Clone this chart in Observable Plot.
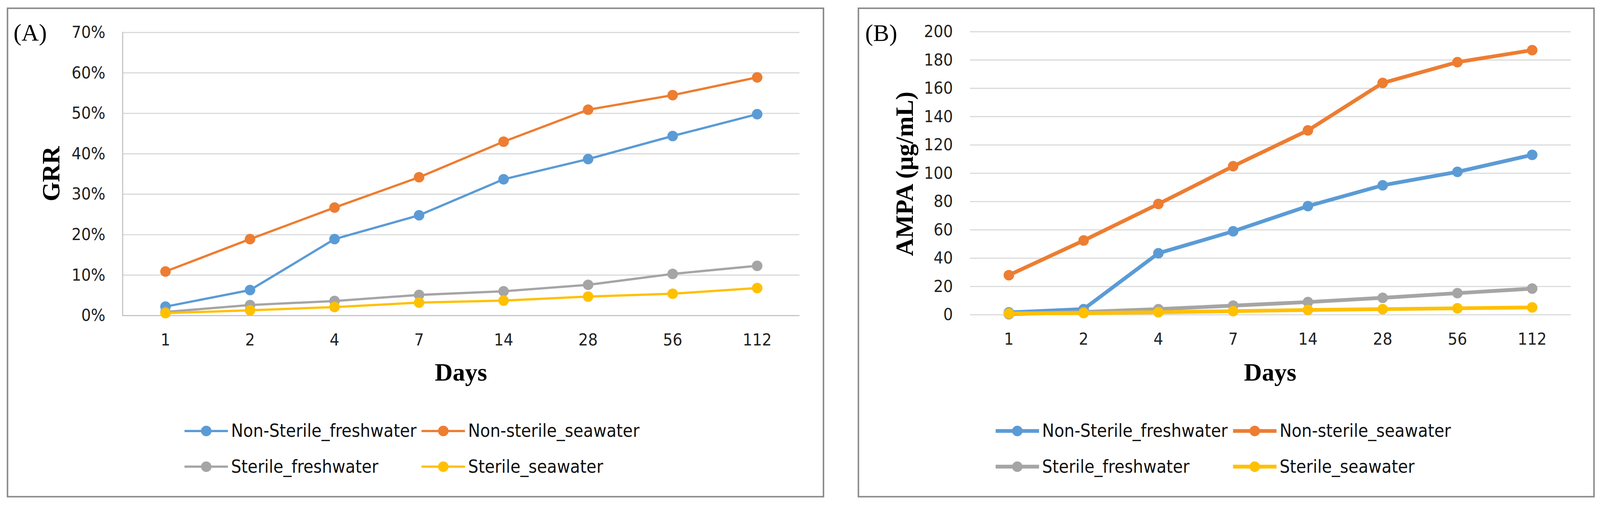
<!DOCTYPE html>
<html>
<head>
<meta charset="utf-8">
<script src="https://cdn.jsdelivr.net/npm/d3@7"></script>
<script src="https://cdn.jsdelivr.net/npm/@observablehq/plot@0.6"></script>
<style>
  html, body { margin: 0; padding: 0; background: #ffffff; overflow: hidden; }
  #root { position: relative; width: 4259px; height: 1350px; background: #ffffff; overflow: hidden; transform-origin: 0 0; }
  .frame { position: absolute; border: 4px solid #8a8a8a; box-sizing: border-box; }
  .abs { position: absolute; white-space: nowrap; }
  .serif { font-family: "Liberation Serif", "DejaVu Serif", serif; color: #000; }
  .sans { font-family: "DejaVu Sans Condensed", "DejaVu Sans", sans-serif; font-stretch: condensed; color: #111; }
  .plotwrap { position: absolute; top: 0; }
</style>
</head>
<body>
<div id="root"></div>
<script>
// ---------- data ----------
const days = ["1", "2", "4", "7", "14", "28", "56", "112"];
const seriesNames = ["Non-Sterile_freshwater", "Non-sterile_seawater", "Sterile_freshwater", "Sterile_seawater"];
const seriesColors = ["#5B9BD5", "#ED7D31", "#A5A5A5", "#FFC000"];

// Panel A: GRR (fraction)
const grrNonSterileFresh = [0.022, 0.063, 0.189, 0.248, 0.337, 0.387, 0.444, 0.498];
const grrNonSterileSea   = [0.109, 0.189, 0.267, 0.342, 0.430, 0.509, 0.545, 0.589];
const grrSterileFresh    = [0.009, 0.026, 0.036, 0.051, 0.060, 0.076, 0.103, 0.123];
const grrSterileSea      = [0.006, 0.013, 0.021, 0.032, 0.037, 0.047, 0.054, 0.068];

// Panel B: AMPA (µg/mL)
const ampaNonSterileFresh = [1.7, 4.0, 43.5, 59.0, 76.8, 91.5, 101.0, 113.0];
const ampaNonSterileSea   = [28.0, 52.5, 78.3, 105.0, 130.3, 163.8, 178.5, 187.0];
const ampaSterileFresh    = [0.4, 2.0, 4.0, 6.5, 9.0, 12.0, 15.3, 18.5];
const ampaSterileSea      = [1.0, 1.2, 1.8, 2.6, 3.4, 4.0, 4.6, 5.2];

const yTicksA = [0, 0.1, 0.2, 0.3, 0.4, 0.5, 0.6, 0.7];
const yTicksB = [0, 20, 40, 60, 80, 100, 120, 140, 160, 180, 200];

const labelA = "(A)", labelB = "(B)";
const yTitleA = "GRR", yTitleB = "AMPA (µg/mL)", xTitle = "Days";

// ---------- helpers ----------
function tidy(arrays) {
  const rows = [];
  arrays.forEach((vals, i) => vals.forEach((v, j) => rows.push({series: seriesNames[i], day: days[j], value: v})));
  return rows;
}

const root = document.getElementById("root");
const sansFont = '"DejaVu Sans Condensed", "DejaVu Sans", sans-serif';

function fit() {
  const s = Math.min(window.innerWidth / 4259, window.innerHeight / 1350);
  root.style.transform = s < 0.999 ? `scale(${s})` : "none";
}
fit();
window.addEventListener("resize", fit);

function addDiv(cls, text, css) {
  const d = document.createElement("div");
  d.className = cls;
  d.textContent = text;
  Object.assign(d.style, css);
  root.appendChild(d);
  return d;
}

function makePanel(cfg) {
  const rows = tidy(cfg.arrays);
  const marks = [
    Plot.gridY({ticks: cfg.yTicks, stroke: "#d9d9d9", strokeOpacity: 1, strokeWidth: 3})
  ];
  if (cfg.axisLine) {
    marks.push(Plot.frame({anchor: "left", stroke: "#c4c4c4", strokeWidth: 3}));
    marks.push(Plot.ruleY([0], {stroke: "#c4c4c4", strokeWidth: 3}));
  }
  marks.push(
    Plot.axisY({ticks: cfg.yTicks, tickFormat: cfg.tickFormat, tickSize: 0, tickPadding: 46, label: null,
                fontSize: 45, fill: "#222"}),
    Plot.axisX({tickSize: 0, tickPadding: 48, label: null, fontSize: 45, fill: "#222"})
  );
  seriesNames.forEach((s) => {
    const sub = rows.filter(d => d.series === s);
    marks.push(Plot.line(sub, {x: "day", y: "value", stroke: "series", strokeWidth: cfg.lineWidth}));
    marks.push(Plot.dot(sub, {x: "day", y: "value", fill: "series", r: 14, stroke: "none"}));
  });
  const svg = Plot.plot({
    width: cfg.width, height: 1350,
    marginLeft: cfg.marginLeft, marginRight: cfg.marginRight, marginTop: cfg.marginTop, marginBottom: 1350 - cfg.plotBottom,
    x: {type: "point", domain: days, padding: 0.5},
    y: {domain: cfg.yDomain},
    color: {domain: seriesNames, range: seriesColors},
    style: {fontFamily: sansFont, fontSize: "45px", background: "transparent", overflow: "visible"},
    marks
  });
  const wrap = document.createElement("div");
  wrap.className = "plotwrap";
  wrap.style.left = cfg.left + "px";
  wrap.appendChild(svg);
  root.appendChild(wrap);

  // legend
  const lx = cfg.legendX, ly = [1148, 1243];
  seriesNames.forEach((s, i) => {
    const x = lx[i % 2], y = ly[Math.floor(i / 2)];
    const ns = "http://www.w3.org/2000/svg";
    const sw = document.createElementNS(ns, "svg");
    sw.setAttribute("width", 116); sw.setAttribute("height", 40);
    sw.style.position = "absolute"; sw.style.left = x + "px"; sw.style.top = (y - 20) + "px";
    const ln = document.createElementNS(ns, "line");
    ln.setAttribute("x1", 0); ln.setAttribute("x2", 116); ln.setAttribute("y1", 20); ln.setAttribute("y2", 20);
    ln.setAttribute("stroke", seriesColors[i]); ln.setAttribute("stroke-width", cfg.lineWidth);
    const c = document.createElementNS(ns, "circle");
    c.setAttribute("cx", 58); c.setAttribute("cy", 20); c.setAttribute("r", 14); c.setAttribute("fill", seriesColors[i]);
    sw.appendChild(ln); sw.appendChild(c);
    root.appendChild(sw);
    addDiv("abs sans", s, {left: (x + 124) + "px", top: y + "px", fontSize: "48px", transform: "translateY(-52%)"});
  });
}

// frames
addDiv("frame", "", {left: "18px", top: "20px", width: "2176px", height: "1305px"});
addDiv("frame", "", {left: "2283px", top: "20px", width: "1962px", height: "1305px"});

makePanel({
  arrays: [grrNonSterileFresh, grrNonSterileSea, grrSterileFresh, grrSterileSea],
  left: 0, width: 2200, marginLeft: 326, marginRight: 72, marginTop: 86, plotBottom: 840,
  yDomain: [0, 0.7], yTicks: yTicksA, tickFormat: d3.format(".0%"), lineWidth: 6, axisLine: true,
  legendX: [491, 1122]
});
makePanel({
  arrays: [ampaNonSterileFresh, ampaNonSterileSea, ampaSterileFresh, ampaSterileSea],
  left: 2200, width: 2059, marginLeft: 382, marginRight: 78, marginTop: 84, plotBottom: 838,
  yDomain: [0, 200], yTicks: yTicksB, tickFormat: d3.format("d"), lineWidth: 10, axisLine: false,
  legendX: [2650, 3282]
});

// panel letters
addDiv("abs serif", labelA, {left: "36px", top: "87px", fontSize: "64px", transform: "translateY(-50%)"});
addDiv("abs serif", labelB, {left: "2303px", top: "88px", fontSize: "64px", transform: "translateY(-50%)"});
// axis titles
addDiv("abs serif", yTitleA, {left: "136px", top: "463px", fontSize: "66px", fontWeight: "bold", transform: "translate(-50%,-50%) rotate(-90deg)"});
addDiv("abs serif", yTitleB, {left: "2408px", top: "463px", fontSize: "66px", fontWeight: "bold", transform: "translate(-50%,-50%) rotate(-90deg)"});
addDiv("abs serif", xTitle, {left: "1227px", top: "992px", fontSize: "66px", fontWeight: "bold", transform: "translate(-50%,-50%)"});
addDiv("abs serif", xTitle, {left: "3381px", top: "992px", fontSize: "66px", fontWeight: "bold", transform: "translate(-50%,-50%)"});
</script>
</body>
</html>
